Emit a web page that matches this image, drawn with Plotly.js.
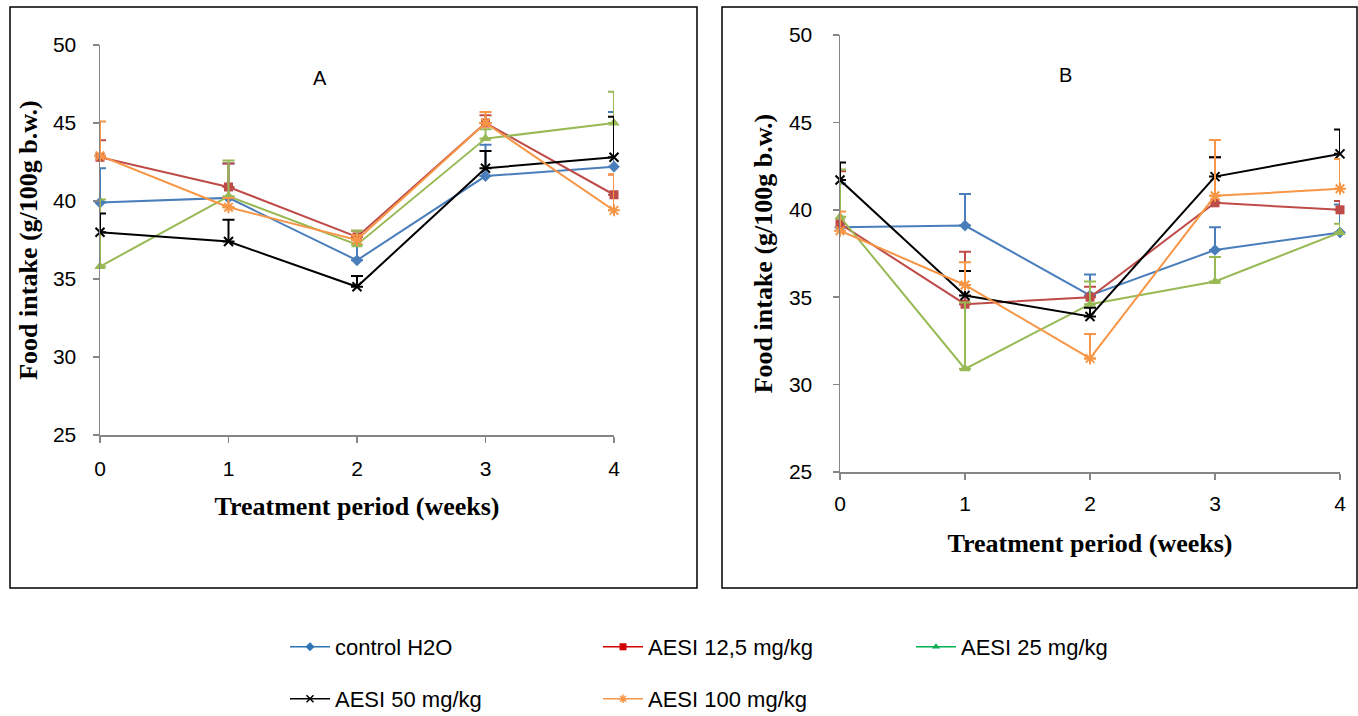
<!DOCTYPE html>
<html>
<head>
<meta charset="utf-8">
<script src="https://cdn.plot.ly/plotly-3.0.1.min.js"></script>
<style>html,body{margin:0;padding:0;background:#fff;} #chart{width:1358px;height:716px;}</style>
</head>
<body>
<div id="chart"></div>
<script>
// ---- data ----
const weeks = [0, 1, 2, 3, 4];
const seriesNames = ["control H2O", "AESI 12,5 mg/kg", "AESI 25 mg/kg", "AESI 50 mg/kg", "AESI 100 mg/kg"];

// Panel A: mean food intake (g/100g b.w.)
const A_control = [39.9, 40.2, 36.2, 41.6, 42.2];
const A_aesi12 = [42.8, 40.9, 37.7, 45.0, 40.4];
const A_aesi25 = [35.8, 40.3, 37.2, 44.0, 45.0];
const A_aesi50 = [38.0, 37.4, 34.5, 42.1, 42.8];
const A_aesi100 = [42.9, 39.6, 37.5, 45.0, 39.4];
// Panel A: upper error bars
const A_control_err = [2.2, 2.2, 1.3, 2.0, 3.5];
const A_aesi12_err = [1.1, 1.5, 0.4, 0.5, 1.3];
const A_aesi25_err = [4.3, 2.3, 0.9, 0.6, 2.0];
const A_aesi50_err = [1.2, 1.4, 0.7, 1.1, 2.6];
const A_aesi100_err = [2.2, 0.6, 0.3, 0.7, 2.3];

// Panel B: mean food intake (g/100g b.w.)
const B_control = [39.0, 39.1, 35.1, 37.7, 38.7];
const B_aesi12 = [39.2, 34.6, 35.0, 40.4, 40.0];
const B_aesi25 = [39.6, 30.9, 34.6, 35.9, 38.7];
const B_aesi50 = [41.7, 35.1, 33.9, 41.9, 43.2];
const B_aesi100 = [38.8, 35.7, 31.5, 40.8, 41.2];
// Panel B: upper error bars
const B_control_err = [2.5, 1.8, 1.2, 1.3, 1.6];
const B_aesi12_err = [3.0, 3.0, 0.6, 2.6, 0.5];
const B_aesi25_err = [2.7, 3.8, 1.3, 1.4, 0.5];
const B_aesi50_err = [1.0, 1.4, 0.5, 1.1, 1.4];
const B_aesi100_err = [1.1, 1.3, 1.4, 3.2, 1.7];

const tickVals = [0, 1, 2, 3, 4];
const tickText = ["0", "1", "2", "3", "4"];

// ---- styles ----
const lineColors = ["#4A7EBB", "#BE4B48", "#98B954", "#000000", "#F79646"];
const legendColors = ["#2E75B6", "#D00000", "#00B050", "#000000", "#F79646"];
const symbols = ["diamond", "square", "triangle-up", "x-thin-open", "asterisk-open"];
const msize = [9, 9, 10, 9, 10];

const W = 1358, H = 716;
const px = v => v / W;
const py = v => 1 - v / H;

const Adata = [A_control, A_aesi12, A_aesi25, A_aesi50, A_aesi100];
const Aerr = [A_control_err, A_aesi12_err, A_aesi25_err, A_aesi50_err, A_aesi100_err];
const Bdata = [B_control, B_aesi12, B_aesi25, B_aesi50, B_aesi100];
const Berr = [B_control_err, B_aesi12_err, B_aesi25_err, B_aesi50_err, B_aesi100_err];

const traces = [];
function addPanel(data, errs, xa, ya) {
  data.forEach((vals, i) => {
    traces.push({
      type: "scatter", mode: "lines+markers",
      x: weeks, y: vals, xaxis: xa, yaxis: ya,
      name: seriesNames[i], showlegend: false, cliponaxis: false,
      line: {color: lineColors[i], width: 2},
      marker: {symbol: symbols[i], size: msize[i], color: lineColors[i],
               line: {color: lineColors[i], width: (i >= 3 ? 2 : 0)}},
      error_y: {type: "data", symmetric: false, array: errs[i],
                arrayminus: weeks.map(() => 0), color: lineColors[i],
                thickness: 2, width: 6}
    });
  });
}
addPanel(Adata, Aerr, "x", "y");
addPanel(Bdata, Berr, "x2", "y2");

// legend entries (legend-styled colours)
const legendOf = ["legend", "legend", "legend", "legend2", "legend2"];
seriesNames.forEach((n, i) => {
  traces.push({
    type: "scatter", mode: "lines+markers", x: [null], y: [null],
    xaxis: "x", yaxis: "y", name: n, legend: legendOf[i], showlegend: true,
    line: {color: legendColors[i], width: 1.5},
    marker: {symbol: symbols[i], size: 7, color: legendColors[i],
             line: {color: legendColors[i], width: (i >= 3 ? 1.5 : 0)}}
  });
});

const tickFont = {family: "Liberation Sans, Arial, sans-serif", size: 21, color: "#000"};
const titleFont = {family: "Liberation Serif, Times New Roman, serif", size: 26, color: "#000", weight: "bold"};
const legendFont = {family: "Liberation Sans, Arial, sans-serif", size: 22, color: "#000"};
const axisCommon = {
  showline: true, linecolor: "#868686", linewidth: 1.5,
  ticks: "outside", tickcolor: "#868686", ticklen: 6, tickwidth: 1.5,
  showgrid: false, zeroline: false, tickfont: tickFont, fixedrange: true
};

const layout = {
  width: W, height: H,
  margin: {l: 0, r: 0, t: 0, b: 0, autoexpand: false},
  paper_bgcolor: "#fff", plot_bgcolor: "rgba(0,0,0,0)",
  showlegend: true,
  xaxis: Object.assign({}, axisCommon, {
    domain: [px(100), px(614)], range: [0, 4], anchor: "y",
    tickvals: tickVals, ticktext: tickText, ticklabelstandoff: 8,
    title: {text: "Treatment period (weeks)", font: titleFont, standoff: 18}
  }),
  yaxis: Object.assign({}, axisCommon, {
    domain: [py(435), py(45)], range: [25, 50], dtick: 5, anchor: "x",
    ticklabelstandoff: 12,
    title: {text: "Food intake (g/100g b.w.)", font: titleFont, standoff: 8}
  }),
  xaxis2: Object.assign({}, axisCommon, {
    domain: [px(840), px(1340)], range: [0, 4], anchor: "y2",
    tickvals: tickVals, ticktext: tickText, ticklabelstandoff: 6,
    title: {text: "Treatment period (weeks)", font: titleFont, standoff: 20}
  }),
  yaxis2: Object.assign({}, axisCommon, {
    domain: [py(472), py(35)], range: [25, 50], dtick: 5, anchor: "x2",
    ticklabelstandoff: 16,
    title: {text: "Food intake (g/100g b.w.)", font: titleFont, standoff: 9}
  }),
  legend: {orientation: "h", x: px(285), y: py(626), xanchor: "left", yanchor: "top",
           entrywidth: 258, entrywidthmode: "pixels", font: legendFont,
           itemwidth: 40, bgcolor: "rgba(0,0,0,0)", traceorder: "normal"},
  legend2: {orientation: "h", x: px(285), y: py(678), xanchor: "left", yanchor: "top",
            entrywidth: 258, entrywidthmode: "pixels", font: legendFont,
            itemwidth: 40, bgcolor: "rgba(0,0,0,0)", traceorder: "normal"},
  annotations: [
    {text: "A", x: px(320), y: py(78), xref: "paper", yref: "paper", showarrow: false,
     xanchor: "center", yanchor: "middle",
     font: {family: "Liberation Sans, Arial, sans-serif", size: 20, color: "#000"}},
    {text: "B", x: px(1065), y: py(75), xref: "paper", yref: "paper", showarrow: false,
     xanchor: "center", yanchor: "middle",
     font: {family: "Liberation Sans, Arial, sans-serif", size: 20, color: "#000"}}
  ],
  shapes: [
    {type: "rect", xref: "paper", yref: "paper", x0: px(10), x1: px(697), y0: py(588), y1: py(7),
     line: {color: "#000", width: 1.5}, fillcolor: "rgba(0,0,0,0)", layer: "below"},
    {type: "rect", xref: "paper", yref: "paper", x0: px(722), x1: px(1357), y0: py(588), y1: py(7),
     line: {color: "#000", width: 1.5}, fillcolor: "rgba(0,0,0,0)", layer: "below"}
  ]
};

Plotly.newPlot("chart", traces, layout, {displayModeBar: false, staticPlot: true});
</script>
</body>
</html>
